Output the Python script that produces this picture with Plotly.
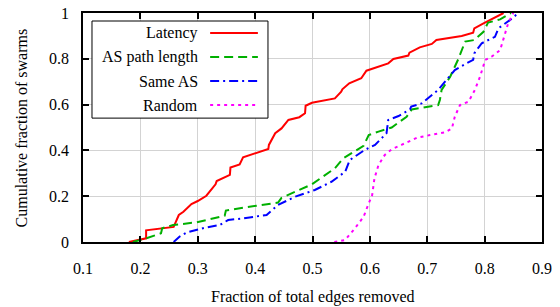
import plotly.graph_objects as go

# ---- data ----
lat_x = [0.180, 0.210, 0.210, 0.258, 0.267, 0.275, 0.289, 0.300, 0.315, 0.331, 0.333, 0.356, 0.357, 0.373, 0.379,
         0.423, 0.424, 0.435, 0.446, 0.458, 0.477, 0.487, 0.488, 0.499, 0.539, 0.550, 0.552, 0.564, 0.585, 0.594,
         0.632, 0.641, 0.667, 0.669, 0.687, 0.708, 0.716, 0.760, 0.780, 0.782, 0.798, 0.833]
lat_y = [0.000, 0.016, 0.051, 0.066, 0.118, 0.132, 0.166, 0.179, 0.202, 0.252, 0.266, 0.293, 0.325, 0.339, 0.370,
         0.406, 0.424, 0.475, 0.496, 0.533, 0.545, 0.562, 0.595, 0.608, 0.627, 0.656, 0.667, 0.693, 0.715, 0.748,
         0.780, 0.799, 0.814, 0.827, 0.850, 0.865, 0.882, 0.900, 0.914, 0.933, 0.955, 1.000]

asp_x = [0.187, 0.210, 0.236, 0.238, 0.257, 0.298, 0.347, 0.349, 0.379, 0.440, 0.446, 0.499, 0.539, 0.554,
         0.589, 0.598, 0.615, 0.638, 0.664, 0.673, 0.719, 0.722, 0.725, 0.740, 0.754, 0.766, 0.782, 0.798,
         0.806, 0.827, 0.846]
asp_y = [0.000, 0.016, 0.038, 0.060, 0.074, 0.086, 0.115, 0.137, 0.150, 0.172, 0.193, 0.252, 0.322, 0.366,
         0.420, 0.467, 0.482, 0.500, 0.547, 0.579, 0.598, 0.620, 0.664, 0.722, 0.798, 0.875, 0.882, 0.918,
         0.958, 0.972, 1.000]

same_x = [0.258, 0.268, 0.280, 0.312, 0.338, 0.353, 0.379, 0.420, 0.440, 0.470, 0.504, 0.533, 0.557, 0.565,
          0.591, 0.609, 0.629, 0.632, 0.650, 0.670, 0.672, 0.690, 0.719, 0.734, 0.748, 0.766, 0.780, 0.782,
          0.795, 0.818, 0.824, 0.844, 0.859]
same_y = [0.000, 0.023, 0.041, 0.062, 0.074, 0.096, 0.103, 0.118, 0.162, 0.198, 0.227, 0.263, 0.307, 0.358,
          0.402, 0.424, 0.475, 0.533, 0.550, 0.579, 0.591, 0.605, 0.664, 0.707, 0.751, 0.777, 0.795, 0.824,
          0.868, 0.896, 0.933, 0.969, 1.000]

rnd_x = [0.538, 0.557, 0.574, 0.589, 0.597, 0.604, 0.608, 0.615, 0.626, 0.638, 0.655, 0.682, 0.705, 0.731,
         0.743, 0.748, 0.757, 0.772, 0.783, 0.792, 0.801, 0.812, 0.827, 0.835, 0.841, 0.850]
rnd_y = [0.000, 0.009, 0.060, 0.110, 0.162, 0.205, 0.278, 0.336, 0.380, 0.405, 0.424, 0.455, 0.467, 0.479,
         0.496, 0.547, 0.598, 0.613, 0.664, 0.722, 0.795, 0.809, 0.838, 0.904, 0.955, 1.000]

names = ["Latency", "AS path length", "Same AS", "Random"]
colors = ["#ff0000", "#00b000", "#0000ff", "#ff00ff"]
dashes = ["solid", "9px,5px", "9px,4px,2px,4px", "3px,4px"]
xs = [lat_x, asp_x, same_x, rnd_x]
ys = [lat_y, asp_y, same_y, rnd_y]

x_ticks = [0.1, 0.2, 0.3, 0.4, 0.5, 0.6, 0.7, 0.8, 0.9]
y_ticks = [0, 0.2, 0.4, 0.6, 0.8, 1]
x_title = "Fraction of total edges removed"
y_title = "Cumulative fraction of swarms"

FONT = "Liberation Serif, Times New Roman, DejaVu Serif, serif"

fig = go.Figure()
for x, y, n, c, d in zip(xs, ys, names, colors, dashes):
    fig.add_trace(go.Scatter(x=x, y=y, mode="lines", name=n,
                             line=dict(color=c, width=2, dash=d), showlegend=False))

axis_common = dict(
    showgrid=True, gridcolor="#d3d3d3", gridwidth=1,
    showline=True, linecolor="black", linewidth=1.5, mirror="ticks",
    ticks="inside", ticklen=6, tickwidth=1.5, tickcolor="black",
    zeroline=False, automargin=False,
    tickfont=dict(family=FONT, size=16, color="black"),
)

fig.update_xaxes(range=[0.1, 0.9], tickvals=x_ticks, ticktext=[str(v) for v in x_ticks],
                 ticklabelstandoff=11, **axis_common)
fig.update_yaxes(range=[0, 1], tickvals=y_ticks, ticktext=["0", "0.2", "0.4", "0.6", "0.8", "1"],
                 ticklabelstandoff=9, **axis_common)

# manual legend (text right-aligned, sample line to the right, as in the reference)
shapes = [dict(type="rect", xref="paper", yref="paper", x0=0.0196, x1=0.403, y0=0.541, y1=0.965,
               line=dict(color="black", width=1), fillcolor="white", layer="above")]
annotations = []
row_y = [0.913, 0.808, 0.703, 0.598]
for n, c, d, ry in zip(names, colors, dashes, row_y):
    shapes.append(dict(type="line", xref="paper", yref="paper", x0=0.277, x1=0.381, y0=ry, y1=ry,
                       line=dict(color=c, width=2, dash=d), layer="above"))
    annotations.append(dict(xref="paper", yref="paper", x=0.255, y=ry, text=n, showarrow=False,
                            xanchor="right", yanchor="middle", font=dict(family=FONT, size=16, color="black")))

# axis titles
annotations.append(dict(xref="paper", yref="paper", x=0.5, y=-0.240, text=x_title, showarrow=False,
                        xanchor="center", yanchor="middle", font=dict(family=FONT, size=16, color="black")))
annotations.append(dict(xref="paper", yref="paper", x=-0.133, y=0.5, text=y_title, showarrow=False,
                        textangle=-90, xanchor="center", yanchor="middle",
                        font=dict(family=FONT, size=16, color="black")))

fig.update_layout(
    width=560, height=307,
    margin=dict(l=83, r=18, t=13, b=65),
    paper_bgcolor="white", plot_bgcolor="white",
    shapes=shapes, annotations=annotations,
    font=dict(family=FONT, size=16, color="black"),
)

fig.write_html("out.html", config={"displayModeBar": False},
               post_script="document.body.style.margin='0';")
